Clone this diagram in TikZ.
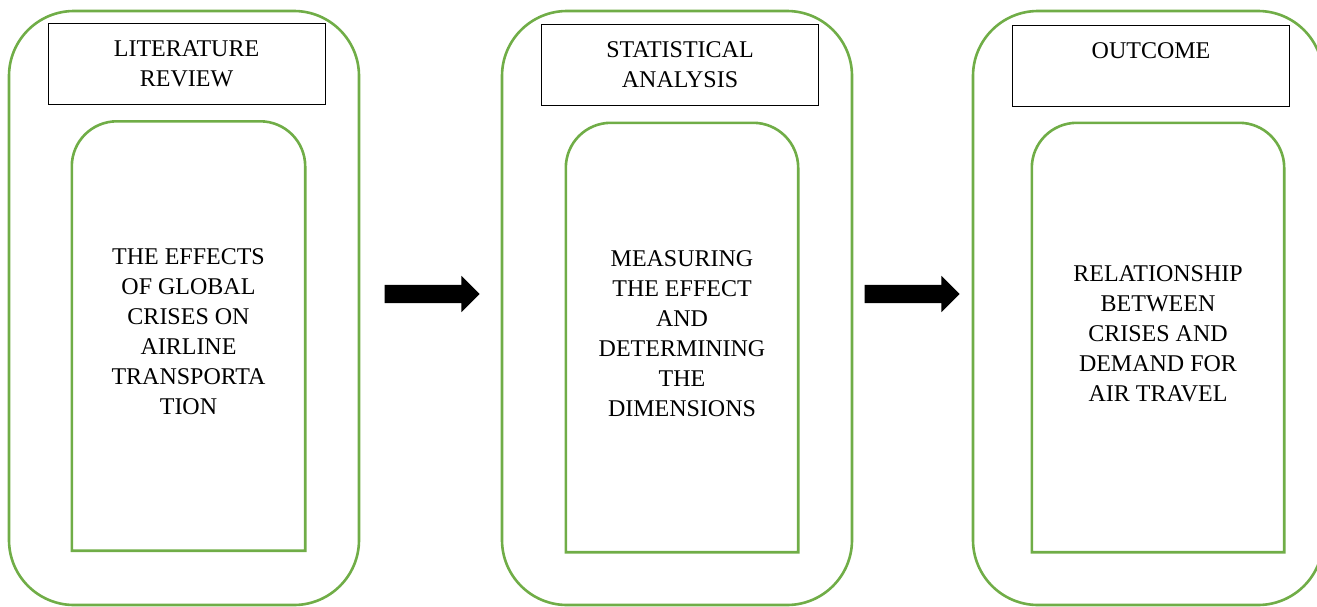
\documentclass[tikz,border=0pt]{standalone}
\usepackage{fontspec}
\setmainfont{Liberation Serif}
\usetikzlibrary{shapes.arrows}
\definecolor{FrameGreen}{HTML}{70AD47}
\begin{document}
\begin{tikzpicture}[x=1pt,y=-1pt,
    every node/.style={font=\fontsize{24}{30}\selectfont, align=center, text=black},
    outerbox/.style={draw=FrameGreen, line width=2.6pt, rounded corners=65pt,
      minimum width=350pt, minimum height=594pt, inner sep=0pt},
    titlebox/.style={draw=black, line width=1pt, minimum width=277pt,
      minimum height=81pt, inner sep=0pt},
    innerbox/.style={minimum height=429pt, inner sep=0pt},
    innerframe/.style={draw=FrameGreen, line width=2.6pt},
    blockarrow/.style={single arrow, fill=black, draw=none, minimum height=95pt,
      inner sep=9pt, single arrow head extend=9pt}]
  \useasboundingbox (0,0) rectangle (1317,606);
  \clip (0,0) rectangle (1317,606);
  % outer frames
  \node[outerbox] (litOuter)  at (184,308) {};
  \node[outerbox] (statOuter) at (677,308) {};
  \node[outerbox] (outOuter)  at (1148,308) {};
  % headings
  \node[titlebox] (litHead)  at (186.5,64) {LITERATURE\\REVIEW};
  \node[titlebox] (statHead) at (680,64.5) {STATISTICAL\\ANALYSIS};
  \node[titlebox] (outHead)  at (1151,65.5) {OUTCOME\\\mbox{}};
  % inner boxes (text sits a little above the middle)
  \node[innerbox, minimum width=233pt] (litText) at (188.5,332)
    {THE EFFECTS\\OF GLOBAL\\CRISES ON\\AIRLINE\\TRANSPORTA\\TION};
  \node[innerbox, minimum width=232pt] (statText) at (682,333.5)
    {MEASURING\\THE EFFECT\\AND\\DETERMINING\\THE\\DIMENSIONS};
  \node[innerbox, minimum width=252pt] (outText) at (1158,333.5)
    {RELATIONSHIP\\BETWEEN\\CRISES AND\\DEMAND FOR\\AIR TRAVEL};
  \foreach \n in {litText,statText,outText}
    \draw[innerframe] ([yshift=-4pt]\n.south west) [rounded corners=45pt]
      -- ([yshift=-4pt]\n.north west) -- ([yshift=-4pt]\n.north east) [sharp corners]
      -- ([yshift=-4pt]\n.south east) -- cycle;
  % arrows
  \node[blockarrow] (stepA) at (427.5,294) {};
  \node[blockarrow] (stepB) at (907.5,294) {};
\end{tikzpicture}
\end{document}
